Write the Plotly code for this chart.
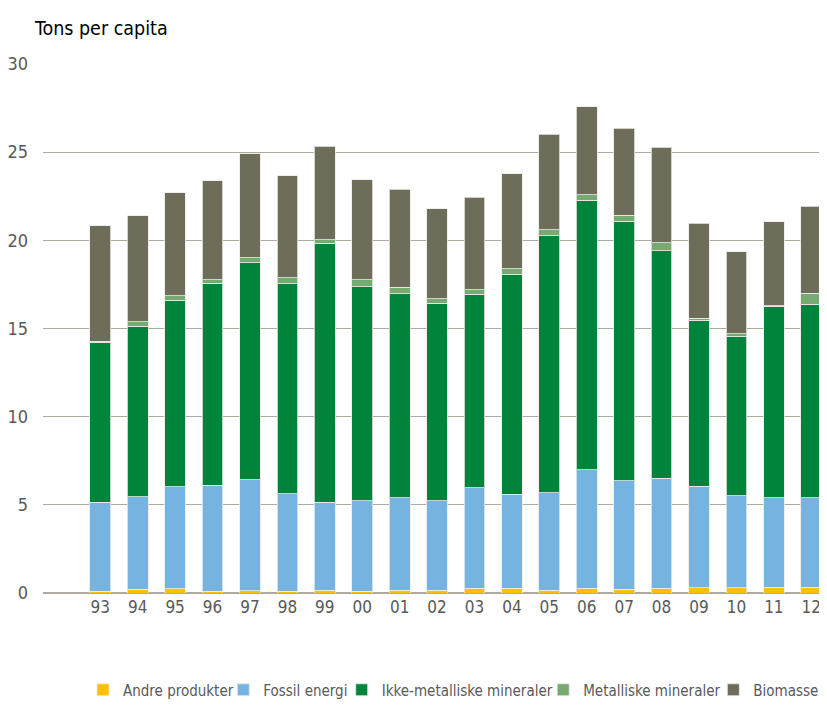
import plotly.graph_objects as go

years = ["93", "94", "95", "96", "97", "98", "99", "00", "01", "02",
         "03", "04", "05", "06", "07", "08", "09", "10", "11", "12"]

andre = [0.10, 0.20, 0.24, 0.10, 0.12, 0.10, 0.15, 0.10, 0.15, 0.15,
         0.27, 0.27, 0.16, 0.27, 0.20, 0.27, 0.31, 0.31, 0.33, 0.33]
fossil = [5.06, 5.26, 5.79, 6.00, 6.31, 5.53, 5.01, 5.14, 5.24, 5.07,
          5.69, 5.33, 5.52, 6.72, 6.17, 6.23, 5.74, 5.20, 5.06, 5.06]
ikke = [9.05, 9.66, 10.57, 11.48, 12.29, 11.90, 14.67, 12.13, 11.59, 11.21,
        10.97, 12.47, 14.59, 15.28, 14.70, 12.91, 9.42, 9.04, 10.86, 10.98]
metal = [0.08, 0.25, 0.26, 0.19, 0.30, 0.35, 0.19, 0.40, 0.36, 0.25,
         0.26, 0.33, 0.33, 0.31, 0.36, 0.45, 0.12, 0.14, 0.04, 0.64]
biomasse = [6.54, 6.03, 5.83, 5.60, 5.88, 5.77, 5.33, 5.66, 5.56, 5.10,
            5.25, 5.37, 5.42, 5.00, 4.94, 5.43, 5.39, 4.67, 4.75, 4.92]

series_names = ["Andre produkter", "Fossil energi", "Ikke-metalliske mineraler",
                "Metalliske mineraler", "Biomasse"]
series_values = [andre, fossil, ikke, metal, biomasse]
series_colors = ["#FFC000", "#75B4E1", "#00843C", "#76AA70", "#6E6D5A"]

# horizontal placement of each legend entry (paper fraction)
legend_x = [0.051, 0.230, 0.381, 0.638, 0.855]

FONT = "DejaVu Sans Condensed, Liberation Sans Narrow, Arial Narrow, Roboto, sans-serif"

fig = go.Figure()
legend_ids = ["legend", "legend2", "legend3", "legend4", "legend5"]
for name, vals, col, lid in zip(series_names, series_values, series_colors, legend_ids):
    fig.add_trace(go.Bar(
        x=years, y=vals, name=name, legend=lid, showlegend=True,
        marker=dict(color=col, line=dict(color="rgba(235,235,235,0.8)", width=1)),
    ))

legend_layout = {}
for lid, lx in zip(legend_ids, legend_x):
    legend_layout[lid] = dict(
        orientation="h",
        x=lx, xanchor="left",
        y=-0.1834, yanchor="middle",
        font=dict(size=15, color="#595959", family=FONT),
        itemwidth=30,
        borderwidth=0,
        bgcolor="rgba(0,0,0,0)",
        visible=True,
    )

fig.update_layout(
    showlegend=True,
    barmode="stack",
    bargap=0.447,
    width=827, height=705,
    margin=dict(l=35, r=8, t=56, b=120, autoexpand=False),
    paper_bgcolor="white",
    plot_bgcolor="white",
    font=dict(family=FONT, color="#595959", size=17),
    xaxis=dict(
        type="category",
        range=[-1.531, 19.42],
        automargin=False,
        showgrid=False,
        showline=False,
        ticks="",
        tickfont=dict(size=17, color="#595959"),
        ticklabelstandoff=2,
    ),
    yaxis=dict(
        range=[0, 30],
        automargin=False,
        tickvals=[0, 5, 10, 15, 20, 25, 30],
        showgrid=True,
        gridcolor="#ADAB9C",
        gridwidth=1.3,
        zeroline=True,
        zerolinecolor="#ADAB9C",
        zerolinewidth=1.6,
        ticks="",
        tickfont=dict(size=18, color="#595959"),
        ticklabelstandoff=14,
    ),
    annotations=[dict(
        text="Tons per capita", xref="paper", yref="paper",
        x=-0.0144, y=1.068, xanchor="left", yanchor="middle",
        showarrow=False, font=dict(size=19.5, color="black", family=FONT),
    )],
    **legend_layout,
)

fig.write_html("out.html")
